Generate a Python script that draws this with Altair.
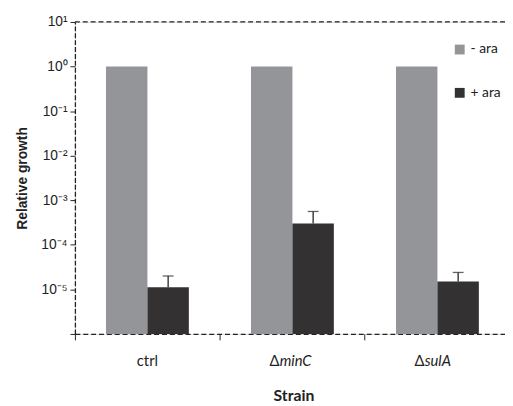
import altair as alt
import pandas as pd

strains = ["ctrl", "ΔminC", "ΔsulA"]
conditions = ["- ara", "+ ara"]
minus_ara = [1.0, 1.0, 1.0]
plus_ara = [1.12e-5, 3.0e-4, 1.5e-5]
plus_ara_err_top = [2.0e-5, 5.6e-4, 2.4e-5]
label_delta = ["", "Δ", "Δ"]
label_name = ["ctrl", "minC", "sulA"]
label_italic = [False, True, True]
tick_exponents = [1, 0, -1, -2, -3, -4, -5, -6]
tick_labels = ["10¹", "10⁰", "10⁻¹", "10⁻²", "10⁻³", "10⁻⁴", "10⁻⁵", ""]

GRAY = "#949599"
DARK = "#333132"

rows = []
for i, s in enumerate(strains):
    rows.append({"strain": s, "cond": "- ara", "value": minus_ara[i], "base": 1e-6})
    rows.append({"strain": s, "cond": "+ ara", "value": plus_ara[i], "base": 1e-6})
bars_df = pd.DataFrame(rows)

err_df = pd.DataFrame({
    "strain": strains,
    "cond": ["+ ara"] * 3,
    "value": plus_ara,
    "top": plus_ara_err_top,
})

lab_df = pd.DataFrame({
    "strain": strains,
    "delta": label_delta,
    "name": label_name,
    "italic": label_italic,
    "base": [1e-6] * 3,
})

# label expression for y axis
expr = "''"
for e, t in zip(reversed(tick_exponents), reversed(tick_labels)):
    expr = f"round(log(datum.value)/LN10) == {e} ? '{t}' : ({expr})"

x_scale = alt.Scale(domain=strains, range=[0, 442], paddingInner=0, paddingOuter=0)
xo_scale = alt.Scale(domain=conditions, paddingInner=0, paddingOuter=0.75)
y_scale = alt.Scale(type="log", domain=[1e-6, 10])

x_enc = alt.X(
    "strain:N", scale=x_scale, sort=strains,
    axis=alt.Axis(
        title="Strain", labels=False, bandPosition=0, ticks=True, tickSize=6,
        tickColor="#222", domainColor="#222", domainDash=[5, 3], domainWidth=1.3,
        titleFont="Lato", titleFontSize=16, titleFontWeight="bold", titleColor="#222",
        titlePadding=48, titleX=222,
    ),
)

bars = alt.Chart(bars_df).mark_bar(clip=True).encode(
    x=x_enc,
    xOffset=alt.XOffset("cond:N", scale=xo_scale, sort=conditions),
    y=alt.Y(
        "value:Q", scale=y_scale,
        axis=alt.Axis(
            title="Relative growth", values=[10 ** e for e in tick_exponents],
            labelExpr=expr, tickSize=5, tickColor="#222", domainColor="#222",
            domainDash=[5, 2], domainWidth=1.3, labelFont="Liberation Sans",
            labelFontSize=14, labelColor="#222", labelPadding=3, grid=False,
            titleFont="Liberation Sans", titleFontSize=14, titleFontWeight="bold",
            titleColor="#222", titlePadding=12,
        ),
    ),
    y2=alt.Y2("base:Q"),
    color=alt.Color(
        "cond:N", sort=conditions,
        scale=alt.Scale(domain=conditions, range=[GRAY, DARK]),
        legend=alt.Legend(
            title=None, orient="none", legendX=384, legendY=21, symbolType="square",
            symbolSize=100, symbolStrokeWidth=0, labelFont="Lato", labelFontSize=14,
            labelColor="#222", rowPadding=30, labelOffset=4,
        ),
    ),
)

err_rule = alt.Chart(err_df).mark_rule(color="#222", strokeWidth=1.3).encode(
    x=alt.X("strain:N", scale=x_scale, sort=strains),
    xOffset=alt.XOffset("cond:N", scale=xo_scale, sort=conditions),
    y=alt.Y("value:Q", scale=y_scale),
    y2="top:Q",
)
err_cap = alt.Chart(err_df).mark_tick(color="#222", size=11, thickness=1.3).encode(
    x=alt.X("strain:N", scale=x_scale, sort=strains),
    xOffset=alt.XOffset("cond:N", scale=xo_scale, sort=conditions),
    y=alt.Y("top:Q", scale=y_scale),
)

top_line = alt.Chart(pd.DataFrame({"v": [10.0]})).mark_rule(
    color="#222", strokeDash=[5, 3], strokeWidth=1.3
).encode(y=alt.Y("v:Q", scale=y_scale))

plain_lab = alt.Chart(lab_df).transform_filter("!datum.italic").mark_text(
    font="Lato", fontSize=15, color="#222", baseline="middle", align="center", dy=28
).encode(
    x=alt.X("strain:N", scale=x_scale, sort=strains),
    y=alt.Y("base:Q", scale=y_scale),
    text="name:N",
)
delta_lab = alt.Chart(lab_df).transform_filter("datum.italic").mark_text(
    font="Lato", fontSize=15, color="#222", baseline="middle", align="right", dx=-13, dy=28
).encode(
    x=alt.X("strain:N", scale=x_scale, sort=strains),
    y=alt.Y("base:Q", scale=y_scale),
    text="delta:N",
)
ital_lab = alt.Chart(lab_df).transform_filter("datum.italic").mark_text(
    font="Lato", fontSize=15, fontStyle="italic", color="#222", baseline="middle",
    align="left", dx=-13, dy=28
).encode(
    x=alt.X("strain:N", scale=x_scale, sort=strains),
    y=alt.Y("base:Q", scale=y_scale),
    text="name:N",
)

chart = alt.layer(top_line, bars, err_rule, err_cap, plain_lab, delta_lab, ital_lab).properties(
    width=437, height=317,
    autosize=alt.AutoSizeParams(type="none"),
    padding={"left": 68, "top": 11, "right": 0, "bottom": 70},
).configure_view(stroke=None).configure(background="white")

chart.save("out.html", embed_options={"renderer": "svg", "actions": False})
